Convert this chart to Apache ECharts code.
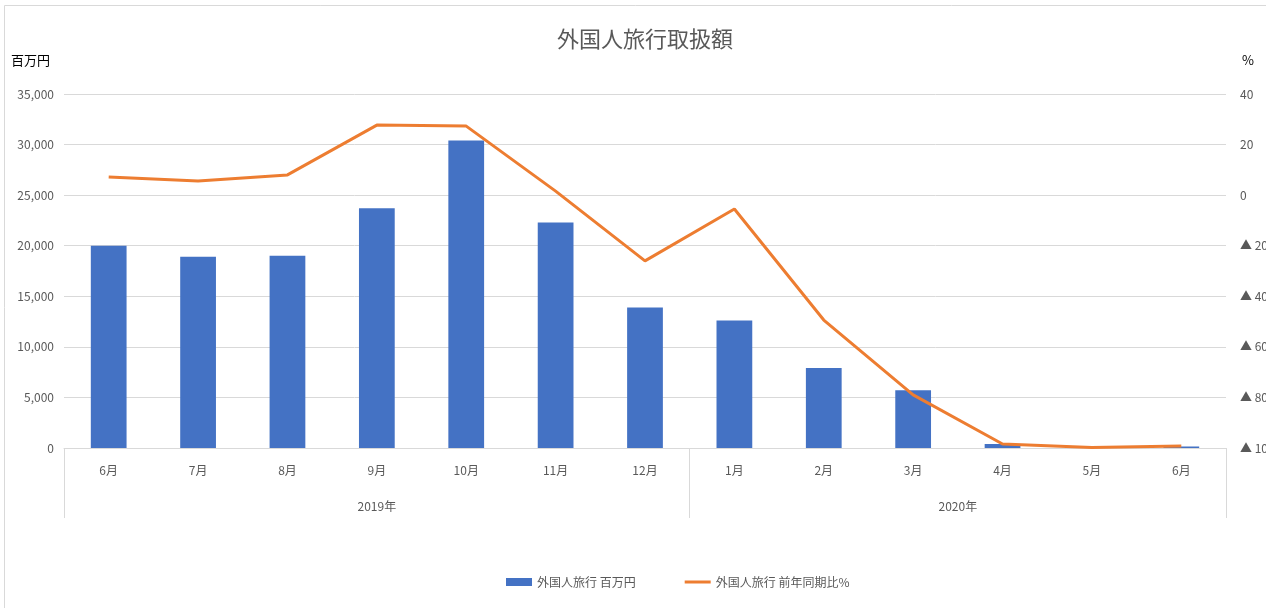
<!DOCTYPE html>
<html>
<head>
<meta charset="utf-8">
<script src="https://cdn.jsdelivr.net/npm/echarts@6/dist/echarts.min.js"></script>
<style>html,body{margin:0;padding:0;background:#fff}#c{width:1266px;height:608px}</style>
</head>
<body>
<div id="c"></div>
<script>
var months = ['6月','7月','8月','9月','10月','11月','12月','1月','2月','3月','4月','5月','6月'];
var yearLabels = {'3.5':'2019年','10':'2020年'};
var yearBounds = [0, 7, 13];
var amount = [20000, 18900, 19000, 23700, 30400, 22300, 13900, 12600, 7900, 5700, 400, 50, 150];
var yoy = [7.2, 5.6, 8.0, 27.7, 27.3, 1.6, -26.0, -5.5, -49.4, -79.0, -98.4, -99.8, -99.2];
var leftTicks = [0, 35000, 5000];
var rightTicks = [-100, 40, 20];

var font = '"Noto Sans CJK JP", "Noto Sans", sans-serif';
var grey = '#595959';
var lineGrey = '#d9d9d9';
var chart = echarts.init(document.getElementById('c'));
chart.setOption({
  animation: false,
  textStyle: {fontFamily: font},
  title: {
    text: '外国人旅行取扱額', left: 640, top: 23, textAlign: 'center',
    textStyle: {fontSize: 22, fontWeight: 'normal', color: grey, fontFamily: font}
  },
  graphic: [{
    type: 'rect', shape: {x: 4.5, y: 5.5, width: 1300, height: 700},
    style: {fill: 'none', stroke: lineGrey, lineWidth: 1}, silent: true
  }],
  legend: {
    bottom: 15, left: 501, itemGap: 49, itemWidth: 26, itemHeight: 8,
    textStyle: {color: grey, fontSize: 12, fontFamily: font},
    data: [
      {name: '外国人旅行 百万円', icon: 'rect'},
      {name: '外国人旅行 前年同期比%', icon: 'path://M0,0H26V3H0Z'}
    ]
  },
  grid: {left: 64, right: 40, top: 94, bottom: 160, outerBoundsMode: 'none', containLabel: false},
  xAxis: [{
    type: 'category', data: months, boundaryGap: true,
    axisLine: {show: true, lineStyle: {color: lineGrey}},
    axisTick: {show: false},
    axisLabel: {color: grey, fontSize: 12, margin: 16, interval: 0}
  }, {
    type: 'value', position: 'bottom', min: 0, max: 13,
    splitLine: {show: false},
    axisLine: {show: false, onZero: false},
    axisTick: {show: true, length: 70, inside: false, customValues: yearBounds, lineStyle: {color: lineGrey}},
    axisLabel: {
      show: true, color: grey, fontSize: 12, margin: 52,
      customValues: [3.5, 10],
      formatter: function (v) { return yearLabels[String(v)] || ''; }
    }
  }],
  yAxis: [{
    type: 'value', min: leftTicks[0], max: leftTicks[1], interval: leftTicks[2],
    name: '百万円', nameLocation: 'end', nameGap: 27,
    nameTextStyle: {color: '#000', fontSize: 13, align: 'right', padding: [0, 14, 0, 0]},
    axisLine: {show: false}, axisTick: {show: false},
    axisLabel: {color: grey, fontSize: 12, margin: 10,
      formatter: function (v) { return v.toLocaleString('en-US'); }},
    splitLine: {lineStyle: {color: lineGrey}}
  }, {
    type: 'value', min: rightTicks[0], max: rightTicks[1], interval: rightTicks[2],
    name: '%', nameLocation: 'end', nameGap: 27,
    nameTextStyle: {color: '#000', fontSize: 13, align: 'left', padding: [0, 0, 0, 16]},
    axisLine: {show: false}, axisTick: {show: false},
    axisLabel: {color: grey, fontSize: 12, margin: 14,
      formatter: function (v) { return v < 0 ? '▲ ' + Math.abs(v) : String(v); }},
    splitLine: {show: false}
  }],
  series: [{
    name: '外国人旅行 百万円', type: 'bar', xAxisIndex: 0, yAxisIndex: 0,
    data: amount, barWidth: '40%',
    itemStyle: {color: '#4472C4'}
  }, {
    name: '外国人旅行 前年同期比%', type: 'line', xAxisIndex: 0, yAxisIndex: 1,
    data: yoy, showSymbol: false, symbol: 'none',
    lineStyle: {color: '#ED7D31', width: 3}, itemStyle: {color: '#ED7D31'}
  }]
});
</script>
</body>
</html>
